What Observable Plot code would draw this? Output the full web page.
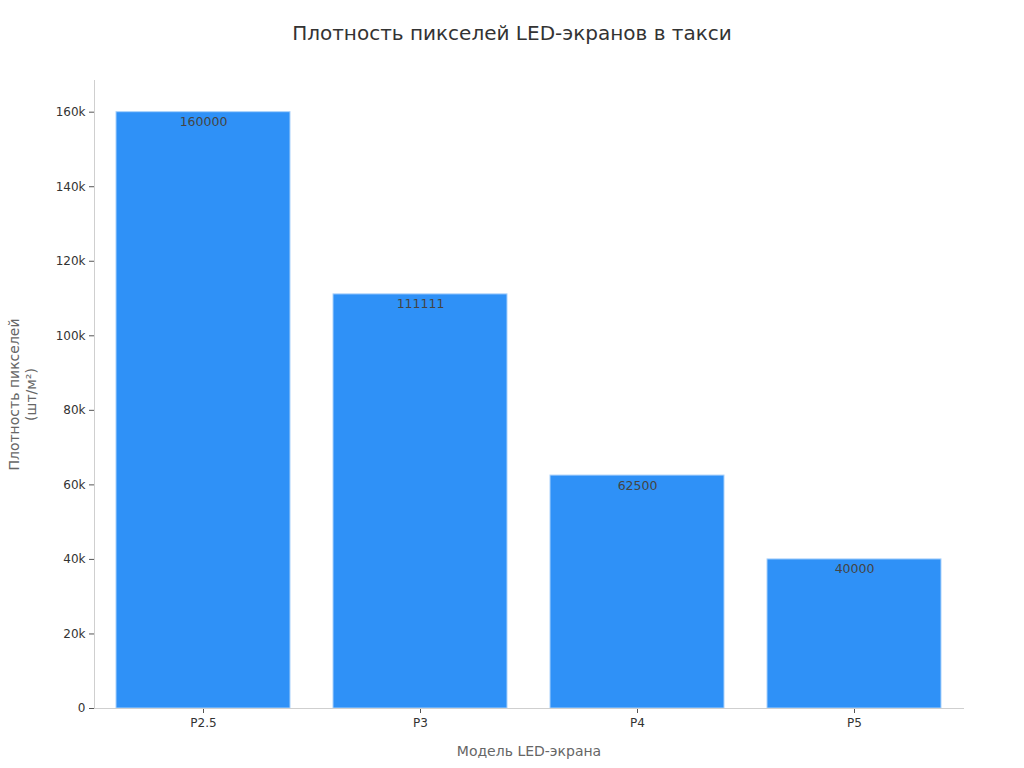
<!DOCTYPE html>
<html>
<head>
<meta charset="utf-8">
<script src="https://cdn.jsdelivr.net/npm/d3@7"></script>
<script src="https://cdn.jsdelivr.net/npm/@observablehq/plot@0.6"></script>
<style>
  body { margin: 0; background: #fff; font-family: "DejaVu Sans", sans-serif; }
  #title { height: 60px; display: flex; align-items: center; justify-content: center; padding-top: 6px; box-sizing: border-box;
           font-size: 20px; color: #333; }
</style>
</head>
<body>
<div id="title">Плотность пикселей LED-экранов в такси</div>
<div id="chart"></div>
<script>
const models = ["P2.5", "P3", "P4", "P5"];
const density = [160000, 111111, 62500, 40000];
const yTicks = [0, 20000, 40000, 60000, 80000, 100000, 120000, 140000, 160000];
const xLabel = "Модель LED-экрана";
const yLabel = "Плотность пикселей\n(шт/м²)";

const data = models.map((m, i) => ({model: m, value: density[i]}));

const chart = Plot.plot({
  width: 1024,
  height: 708,
  marginTop: 20,
  marginBottom: 60,
  marginLeft: 94,
  marginRight: 61,
  style: {fontFamily: "DejaVu Sans, sans-serif", fontSize: "12px", color: "#333", background: "#fff"},
  x: {domain: models, paddingInner: 0.2, paddingOuter: 0.1, label: null},
  y: {domain: [0, 168500], label: null},
  marks: [
    Plot.barY(data, {x: "model", y: "value", fill: "#2f91f7", stroke: "#a9d1fb", strokeWidth: 1}),
    Plot.text(data, {x: "model", y: "value", text: d => String(d.value), dy: 10, lineAnchor: "middle",
                     fill: "#444", fontSize: 12.5}),
    Plot.axisY({ticks: yTicks, tickFormat: d => d === 0 ? "0" : (d / 1000) + "k", tickSize: 5,
                stroke: "#555", label: null, line: false}),
    Plot.axisX({tickSize: 5, stroke: "#555", label: null, tickPadding: 5}),
    Plot.frame({anchor: "left", stroke: "#cfcfcf"}),
    Plot.frame({anchor: "bottom", stroke: "#cfcfcf"}),
    Plot.text([xLabel], {frameAnchor: "bottom", text: d => d, dy: 43, fill: "#666", fontSize: 14, lineAnchor: "middle"}),
    Plot.text([yLabel], {frameAnchor: "left", text: d => d, dx: -72.5, rotate: -90, fill: "#666", fontSize: 14,
                         lineAnchor: "middle", textAnchor: "middle", lineHeight: 1.22})
  ]
});
document.getElementById("chart").appendChild(chart);
</script>
</body>
</html>
